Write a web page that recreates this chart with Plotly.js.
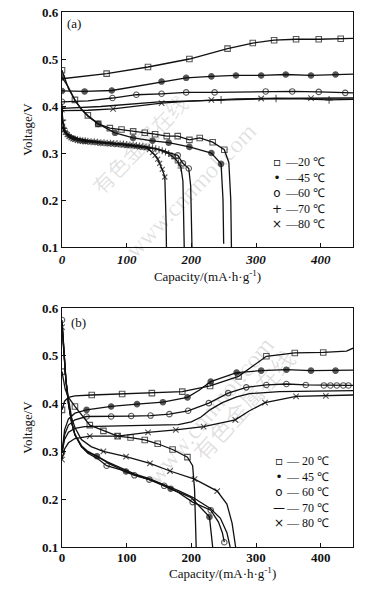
<!DOCTYPE html>
<html><head><meta charset="utf-8">
<script src="https://cdn.plot.ly/plotly-3.0.1.min.js"></script>
<style>html,body{margin:0;padding:0;background:#fff}#c{width:365px;height:590px}</style>
</head><body><div id="c"></div>
<script>
// ---------- Panel (a) ----------
const a20cX = [0,69,133,197,256,295,328,362,397,431,450];
const a20cV = [0.458,0.469,0.483,0.500,0.522,0.534,0.540,0.542,0.542,0.543,0.544];
const a45cX = [0,35,77,154,192,231,269,308,346,385,423,450];
const a45cV = [0.432,0.431,0.433,0.452,0.460,0.463,0.465,0.465,0.467,0.465,0.467,0.468];
const a60cX = [0,40,78,115,154,192,236,315,356,397,438,450];
const a60cV = [0.409,0.411,0.417,0.424,0.426,0.429,0.429,0.431,0.431,0.430,0.428,0.428];
const a70cX = [0,60,150,200,246,290,331,370,413,450];
const a70cV = [0.395,0.399,0.409,0.411,0.413,0.414,0.416,0.415,0.413,0.414];
const a80cX = [0,40,79,120,154,192,231,270,308,346,385,450];
const a80cV = [0.390,0.391,0.394,0.401,0.406,0.410,0.413,0.415,0.416,0.416,0.417,0.417];

const a20dX = [0,5,10,20,30,40,56,74,92,110,128,144,162,179,197,213,233,251,258,261,262];
const a20dV = [0.476,0.455,0.437,0.413,0.393,0.380,0.362,0.353,0.350,0.346,0.343,0.340,0.336,0.336,0.328,0.332,0.323,0.307,0.280,0.200,0.100];
const a45dX = [0,10,20,30,40,56,82,110,140,165,197,231,246,249,250];
const a45dV = [0.461,0.440,0.412,0.393,0.378,0.362,0.343,0.332,0.326,0.322,0.313,0.300,0.277,0.200,0.107];
const a60dX = [0,3,8,15,25,40,70,100,130,150,165,179,187,196,199,200,201];
const a60dV = [0.357,0.347,0.341,0.336,0.331,0.327,0.322,0.318,0.313,0.307,0.300,0.295,0.278,0.267,0.230,0.170,0.100];
const a70dX = [0,1,3,5,8,11,14,17,20,24,28,32,36,40,45,50,55,60,65,70,75,80,85,90,95,100,105,110,115,120,125,130,135,140,145,150,155,160,165,170,175,180,184,187,188,189];
const a70dV = [0.398,0.370,0.352,0.345,0.340,0.336,0.333,0.331,0.330,0.328,0.327,0.326,0.326,0.325,0.324,0.324,0.323,0.322,0.322,0.321,0.321,0.320,0.320,0.319,0.319,0.318,0.317,0.317,0.316,0.315,0.314,0.313,0.312,0.311,0.309,0.307,0.305,0.302,0.299,0.294,0.288,0.279,0.268,0.240,0.180,0.100];
const a80dX = [0,1,3,5,8,11,14,17,20,24,28,32,36,40,45,50,55,60,65,70,75,80,85,90,95,100,105,110,115,120,125,130,135,140,144,148,151,155,159,160.5,161,161.5];
const a80dV = [0.392,0.365,0.350,0.344,0.339,0.335,0.332,0.330,0.329,0.327,0.326,0.325,0.324,0.324,0.323,0.323,0.322,0.321,0.321,0.320,0.320,0.319,0.318,0.318,0.317,0.316,0.316,0.315,0.314,0.313,0.312,0.311,0.307,0.301,0.295,0.287,0.278,0.265,0.249,0.200,0.150,0.100];

// ---------- Panel (b) ----------
const b20cX = [0,4,10,20,46,93,139,186,229,273,316,360,404,440,450];
const b20cV = [0.387,0.405,0.413,0.416,0.418,0.420,0.422,0.425,0.437,0.457,0.499,0.506,0.507,0.510,0.516];
const b45cX = [0,4,10,20,38,76,116,156,194,212,230,270,308,347,385,423,450];
const b45cV = [0.297,0.345,0.368,0.380,0.387,0.394,0.399,0.403,0.413,0.428,0.446,0.465,0.469,0.471,0.469,0.469,0.470];
const b60cX = [0,4,10,20,38,76,107,137,166,195,227,257,285,316,347,377,405,415,425,435,443,450];
const b60cV = [0.297,0.335,0.355,0.366,0.373,0.373,0.374,0.375,0.378,0.385,0.401,0.422,0.434,0.439,0.441,0.439,0.438,0.438,0.438,0.438,0.438,0.438];
const b70cX = [0,4,10,20,35,70,110,150,180,200,215,230,248,270,290,336,400,450];
const b70cV = [0.297,0.325,0.340,0.348,0.352,0.353,0.353,0.354,0.356,0.362,0.372,0.388,0.402,0.414,0.421,0.425,0.427,0.427];
const b80cX = [0,4,10,20,43,86,133,176,219,268,290,314,362,408,450];
const b80cV = [0.283,0.305,0.318,0.327,0.332,0.332,0.340,0.345,0.352,0.366,0.385,0.402,0.415,0.416,0.418];

const b20dX = [0,5,10,20,43,64,86,106,128,148,171,194,202,205,207,207.5];
const b20dV = [0.467,0.430,0.413,0.394,0.355,0.343,0.332,0.329,0.324,0.316,0.304,0.288,0.270,0.220,0.150,0.100];
const b45dX = [0,3,6,10,15,20,30,40,54,75,99,120,145,168,200,228,231,233];
const b45dV = [0.570,0.500,0.450,0.400,0.360,0.335,0.310,0.298,0.290,0.273,0.258,0.248,0.236,0.222,0.203,0.163,0.130,0.100];
const b60dX = [0,3,6,10,15,20,30,40,55,69,90,112,135,158,180,202,230,242,248,251];
const b60dV = [0.575,0.500,0.450,0.400,0.360,0.335,0.310,0.296,0.285,0.270,0.262,0.250,0.241,0.228,0.214,0.194,0.177,0.152,0.130,0.110];
const b70dX = [0,3,6,10,15,20,30,40,55,70,90,112,135,158,180,202,230,245,255,260];
const b70dV = [0.570,0.500,0.450,0.400,0.360,0.335,0.312,0.300,0.289,0.278,0.266,0.253,0.243,0.231,0.218,0.204,0.180,0.160,0.130,0.100];
const b80dX = [0,3,6,10,15,20,30,45,64,99,136,167,205,240,255,263,267,268.5];
const b80dV = [0.560,0.500,0.450,0.410,0.370,0.350,0.325,0.310,0.300,0.289,0.275,0.259,0.242,0.217,0.190,0.150,0.120,0.100];

const temps = ['20 ℃','45 ℃','60 ℃','70 ℃','80 ℃'];
const xTicks = [0,100,200,300,400];
const yTicks = [0.1,0.2,0.3,0.4,0.5,0.6];

// ---------- traces ----------
const SYM = {'20':'square-open','45':'circle','60':'circle-open','70':'cross-thin-open','80':'x-thin-open'};
function tr(x, y, t, skip, ax, size, noMarkers){
  const s = size || 5.5;
  const sizes = x.map((_, i) => (noMarkers || skip.indexOf(i) >= 0) ? 0 : s);
  return {
    x: x, y: y, type: 'scatter', mode: noMarkers ? 'lines' : 'lines+markers',
    xaxis: ax === 2 ? 'x2' : 'x', yaxis: ax === 2 ? 'y2' : 'y',
    line: {color: '#111', width: 1.3},
    marker: {symbol: SYM[t], size: sizes, color: '#111', line: {color: '#111', width: 1.1}},
    showlegend: false, hoverinfo: 'skip'
  };
}

const data = [
  tr(a20cX, a20cV, '20', [0,10], 1),
  tr(a45cX, a45cV, '45', [11], 1),
  tr(a60cX, a60cV, '60', [1,11], 1),
  tr(a70cX, a70cV, '70', [1,2,3,5,7,9], 1),
  tr(a80cX, a80cV, '80', [0,1,3,5,7,9,11], 1),
  tr(a20dX, a20dV, '20', [1,2,4,18,19,20], 1),
  tr(a45dX, a45dV, '45', [1,2,3,4,13,14], 1),
  tr(a60dX, a60dV, '60', [1,2,3,4,5,6,7,8,9,10,14,15,16], 1),
  tr(a70dX, a70dV, '70', [43,44,45], 1, 5),
  tr(a80dX, a80dV, '80', [39,40,41], 1, 5),

  tr(b20cX, b20cV, '20', [1,2,3,13,14], 2),
  tr(b45cX, b45cV, '45', [0,1,2,3,9,16], 2),
  tr(b60cX, b60cV, '60', [1,2,3,21], 2),
  tr(b70cX, b70cV, '70', [], 2, 0, true),
  tr(b80cX, b80cV, '80', [1,2,3,10,14], 2),
  tr(b20dX, b20dV, '20', [1,2,12,13,14,15], 2),
  tr(b45dX, b45dV, '45', [0,1,2,3,4,5,6,7,9,11,12,14,16,17], 2),
  tr(b60dX, b60dV, '60', [1,2,3,4,5,6,7,8,10,14,17,18], 2),
  tr(b70dX, b70dV, '70', [], 2, 0, true),
  tr(b80dX, b80dV, '80', [1,2,3,4,5,6,7,14,15,16,17], 2)
];

// ---------- layout ----------
const SERIF = 'Liberation Serif, Times New Roman, serif';
const XTITLE = 'Capacity/(mA·h·g<sup>-1</sup>)';
function xax(anchor, italic, withTitle){
  const a = {
    anchor: anchor, range: [0,450], tickvals: xTicks, ticktext: xTicks.map(String),
    ticks: 'inside', ticklen: 4, tickwidth: 1, tickcolor: '#111',
    showline: true, linecolor: '#111', linewidth: 1.2, mirror: true,
    showgrid: false, zeroline: false, automargin: false,
    tickfont: {family: SERIF, size: 13, color: '#111', weight: 'bold', style: italic ? 'italic' : 'normal'}
  };
  if (withTitle) a.title = {text: XTITLE, font: {family: SERIF, size: 13, color: '#111'}, standoff: 6};
  else a.ticklabelstandoff = -2;
  return a;
}
function yax(anchor, domain){
  return {
    anchor: anchor, domain: domain, range: [0.1,0.6], tickvals: yTicks, ticktext: yTicks.map(v => v.toFixed(1)),
    ticks: 'inside', ticklen: 4, tickwidth: 1, tickcolor: '#111',
    showline: true, linecolor: '#111', linewidth: 1.2, mirror: true,
    showgrid: false, zeroline: false, automargin: false,
    tickfont: {family: SERIF, size: 13, color: '#111', weight: 'bold'},
    title: {text: 'Voltage/V', font: {family: SERIF, size: 13, color: '#111'}, standoff: 6}
  };
}
// paper coordinate helpers (plot area: x 62..353 px, y 12..547 px)
const PX = px => (px - 62) / 291;
const PY = py => (547 - py) / 535;

const legSyms = '▫<br>•<br>o<br>+<br>×';
const legSymsB = '▫<br>•<br>o<br>—<br>×';
const legTxt = temps.map(t => '—' + t).join('<br>');
const legTxtB = temps.map(t => '— ' + t).join('<br>');

const WM = 'rgba(0,0,0,0.12)';
const annotations = [
  {xref:'paper', yref:'paper', x: PX(74), y: PY(23), xanchor:'center', yanchor:'middle', text:'(a)', showarrow:false, font:{family:SERIF, size:13, color:'#111'}},
  {xref:'paper', yref:'paper', x: PX(78), y: PY(322), xanchor:'center', yanchor:'middle', text:'(b)', showarrow:false, font:{family:SERIF, size:13, color:'#111'}},
  {xref:'paper', yref:'paper', x: PX(222), y: PY(573), xanchor:'center', yanchor:'middle', text: XTITLE, showarrow:false, font:{family:SERIF, size:13, color:'#111'}},
  {xref:'paper', yref:'paper', x: PX(277), y: PY(193), xanchor:'center', yanchor:'middle', text: legSyms, showarrow:false, align:'center', font:{family:'DejaVu Sans', size:12, color:'#111'}},
  {xref:'paper', yref:'paper', x: PX(283), xanchor:'left', y: PY(193), yanchor:'middle', text: legTxt, showarrow:false, align:'left', font:{family:SERIF, size:12, color:'#111'}},
  {xref:'paper', yref:'paper', x: PX(279), y: PY(492), xanchor:'center', yanchor:'middle', text: legSymsB, showarrow:false, align:'center', font:{family:'DejaVu Sans', size:12, color:'#111'}},
  {xref:'paper', yref:'paper', x: PX(284), xanchor:'left', y: PY(492), yanchor:'middle', text: legTxtB, showarrow:false, align:'left', font:{family:SERIF, size:12, color:'#111'}},
  // watermarks
  {xref:'paper', yref:'paper', x: PX(82), y: PY(85), text:'有色金属在线', textangle:-46, showarrow:false, font:{family:'Noto Sans CJK SC', size:21, color:WM}},
  {xref:'paper', yref:'paper', x: PX(118), y: PY(115), text:'www.cnnmol.com', textangle:-46, showarrow:false, font:{family:SERIF, size:24, color:WM}},
  {xref:'paper', yref:'paper', x: PX(243), y: PY(470), text:'有色金属在线', textangle:-48, showarrow:false, font:{family:'Noto Sans CJK SC', size:23, color:WM}},
  {xref:'paper', yref:'paper', x: PX(282), y: PY(492), text:'www.cnnmol.com', textangle:-50, showarrow:false, font:{family:SERIF, size:25, color:WM}}
];

const layout = {
  width: 365, height: 590,
  margin: {l: 62, r: 12, t: 12, b: 43},
  paper_bgcolor: '#fff', plot_bgcolor: '#fff',
  font: {family: SERIF, color: '#111'},
  xaxis: xax('y', true, true),
  yaxis: yax('x', [0.5607, 1]),
  xaxis2: xax('y2', false, false),
  yaxis2: yax('x2', [0, 0.4467]),
  annotations: annotations,
  showlegend: false
};

Plotly.newPlot('c', data, layout, {staticPlot: true, displayModeBar: false});
</script></body></html>
